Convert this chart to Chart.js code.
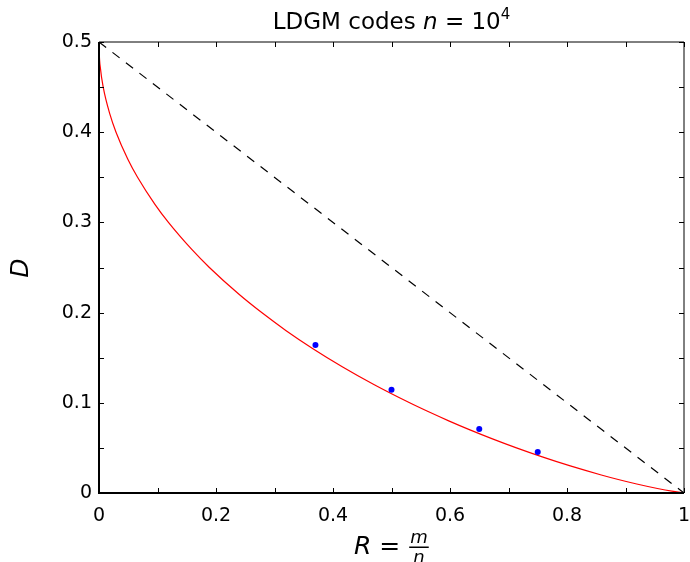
<!DOCTYPE html>
<html><head><meta charset="utf-8">
<script src="https://cdn.jsdelivr.net/npm/chart.js@4/dist/chart.umd.min.js"></script>
<style>html,body{margin:0;padding:0;background:#fff}canvas{display:block}</style>
</head><body>
<canvas id="c" width="690" height="562"></canvas>
<script>
// Shannon rate-distortion bound (red curve)
const boundR = [0, 0.0003, 0.0026, 0.0072, 0.0186, 0.0291, 0.0493, 0.0659, 0.0956, 0.1187, 0.1586, 0.1887, 0.2398, 0.2781, 0.3199, 0.3657, 0.4158, 0.4706, 0.5310, 0.5635, 0.5978, 0.6341, 0.6726, 0.7136, 0.7577, 0.8056, 0.8586, 0.8876, 0.9192, 0.9546, 0.9792, 1];
const boundD = [0.5, 0.49, 0.47, 0.45, 0.42, 0.40, 0.37, 0.35, 0.32, 0.30, 0.27, 0.25, 0.22, 0.20, 0.18, 0.16, 0.14, 0.12, 0.10, 0.09, 0.08, 0.07, 0.06, 0.05, 0.04, 0.03, 0.02, 0.015, 0.01, 0.005, 0.002, 0];
// Dashed line (time sharing)
const lineR = [0, 1];
const lineD = [0.5, 0];
// LDGM simulation points
const simR = [0.37, 0.50, 0.65, 0.75];
const simD = [0.164, 0.1145, 0.071, 0.0455];
// Tick labels
const xTickLabels = [0, 0.2, 0.4, 0.6, 0.8, 1];
const yTickLabels = [0, 0.1, 0.2, 0.3, 0.4, 0.5];

const pts = (xs, ys) => xs.map((x, i) => ({x: x, y: ys[i]}));
const FONT = '"DejaVu Sans", sans-serif';

const fmt = v => (Math.round(v * 1000) / 1000).toString();
const isLabel = (v, list) => list.some(l => Math.abs(l - v) < 1e-6);

const decor = {
  id: 'decor',
  afterDraw(chart) {
    const ctx = chart.ctx, a = chart.chartArea;
    const xs = chart.scales.x, ys = chart.scales.y;
    ctx.save();
    ctx.strokeStyle = '#000';
    ctx.lineWidth = 1;
    ctx.beginPath();
    ctx.moveTo(a.left, a.top); ctx.lineTo(a.right, a.top); ctx.lineTo(a.right, a.bottom);
    ctx.stroke();
    ctx.lineWidth = 2;
    ctx.beginPath();
    ctx.moveTo(a.left, a.top); ctx.lineTo(a.left, a.bottom); ctx.lineTo(a.right, a.bottom);
    ctx.stroke();
    ctx.lineWidth = 1;
    const tl = 5;
    ctx.beginPath();
    xs.ticks.forEach(t => {
      const px = Math.round(xs.getPixelForValue(t.value)) + 0.5;
      ctx.moveTo(px, a.bottom); ctx.lineTo(px, a.bottom - tl);
      ctx.moveTo(px, a.top); ctx.lineTo(px, a.top + tl);
    });
    ys.ticks.forEach(t => {
      const py = Math.round(ys.getPixelForValue(t.value)) + 0.5;
      ctx.moveTo(a.left, py); ctx.lineTo(a.left + tl, py);
      ctx.moveTo(a.right, py); ctx.lineTo(a.right - tl, py);
    });
    ctx.stroke();

    ctx.fillStyle = '#000';
    ctx.textBaseline = 'alphabetic';
    const cx = (a.left + a.right) / 2;
    const parts = [
      {t: 'LDGM codes ', f: '23px ' + FONT, dy: 0},
      {t: 'n', f: 'oblique 23px ' + FONT, dy: 0},
      {t: ' = 10', f: '23px ' + FONT, dy: 0},
      {t: '4', f: '15px ' + FONT, dy: -10}
    ];
    let w = 0;
    parts.forEach(p => { ctx.font = p.f; p.w = ctx.measureText(p.t).width; w += p.w; });
    let x0 = cx - w / 2;
    ctx.textAlign = 'left';
    parts.forEach(p => { ctx.font = p.f; ctx.fillText(p.t, x0, 29 + p.dy); x0 += p.w; });

    // x label: R = m/n
    ctx.font = 'oblique 25px ' + FONT;
    const wR = ctx.measureText('R').width;
    ctx.font = '25px ' + FONT;
    const wEq = ctx.measureText(' = ').width;
    ctx.font = 'oblique 18px ' + FONT;
    const wm = ctx.measureText('m').width;
    let lx = 354;
    ctx.font = 'oblique 25px ' + FONT;
    ctx.fillText('R', lx, 554); lx += wR;
    ctx.font = '25px ' + FONT;
    ctx.fillText(' = ', lx, 554); lx += wEq;
    ctx.font = 'oblique 18px ' + FONT;
    ctx.textAlign = 'center';
    ctx.fillText('m', lx + 2 + wm / 2, 543);
    ctx.fillText('n', lx + 2 + wm / 2, 563);
    ctx.fillRect(lx + 1, 546.5, wm + 2, 1.5);

    ctx.save();
    ctx.translate(28, 268);
    ctx.rotate(-Math.PI / 2);
    ctx.font = 'oblique 25px ' + FONT;
    ctx.textAlign = 'center';
    ctx.fillText('D', 0, 0);
    ctx.restore();
    ctx.restore();
  }
};

new Chart(document.getElementById('c'), {
  type: 'scatter',
  data: {
    datasets: [
      {data: pts(lineR, lineD), showLine: true, borderColor: '#000', borderWidth: 1.2, borderDash: [9, 8], pointRadius: 0, fill: false, order: 3},
      {data: pts(boundR, boundD), showLine: true, borderColor: '#ff0000', borderWidth: 1.2, pointRadius: 0, cubicInterpolationMode: 'monotone', fill: false, order: 2},
      {data: pts(simR, simD), showLine: false, backgroundColor: '#0000ff', borderColor: '#0000ff', pointRadius: 3, pointBorderWidth: 0, order: 1}
    ]
  },
  options: {
    responsive: false,
    animation: false,
    devicePixelRatio: 1,
    layout: {padding: {left: 0, top: 42, right: 6, bottom: 0}},
    plugins: {legend: {display: false}, tooltip: {enabled: false}, title: {display: false}},
    scales: {
      x: {
        type: 'linear', min: 0, max: 1,
        afterFit: s => { s.height = 69; s.paddingLeft = 0; s.paddingRight = 0; },
        grid: {display: false, drawTicks: false},
        border: {display: false},
        ticks: {stepSize: 0.1, padding: 12, color: '#000', font: {family: FONT, size: 19}, maxRotation: 0, autoSkip: false,
          callback: v => isLabel(v, xTickLabels) ? fmt(v) : ''}
      },
      y: {
        type: 'linear', min: 0, max: 0.5,
        afterFit: s => { s.width = 99; s.paddingTop = 0; s.paddingBottom = 0; },
        grid: {display: false, drawTicks: false},
        border: {display: false},
        ticks: {stepSize: 0.05, padding: 7, color: '#000', font: {family: FONT, size: 19}, autoSkip: false,
          callback: v => isLabel(v, yTickLabels) ? fmt(v) : ''}
      }
    }
  },
  plugins: [decor]
});
</script>
</body></html>
